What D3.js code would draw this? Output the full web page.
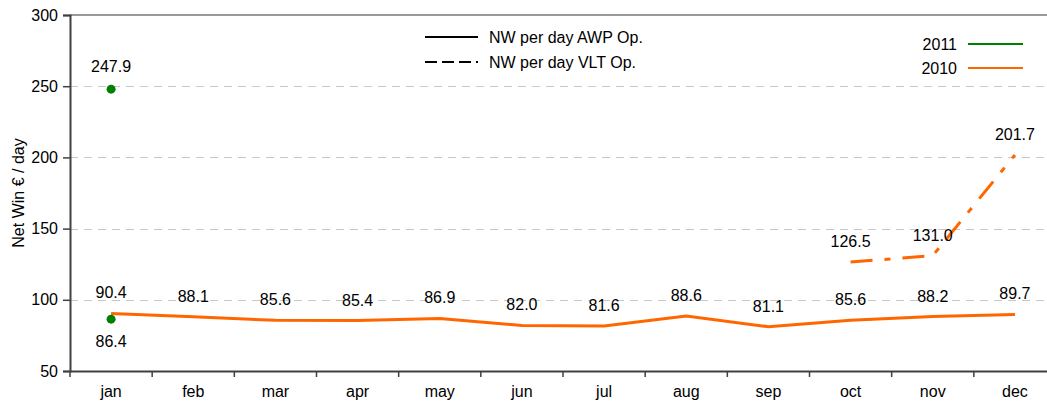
<!DOCTYPE html>
<html>
<head>
<meta charset="utf-8">
<script src="https://cdn.jsdelivr.net/npm/d3@7"></script>
<style>
  body { margin: 0; background: #fff; overflow: hidden; }
  text { font-family: "Liberation Sans", Arial, sans-serif; font-size: 16px; fill: #000; }
</style>
</head>
<body>
<div id="chart"></div>
<script>
// chart data
var months = ["jan", "feb", "mar", "apr", "may", "jun", "jul", "aug", "sep", "oct", "nov", "dec"];
var awp2010 = [90.4, 88.1, 85.6, 85.4, 86.9, 82.0, 81.6, 88.6, 81.1, 85.6, 88.2, 89.7];
var vltMonths2010 = ["oct", "nov", "dec"];
var vlt2010 = [126.5, 131.0, 201.7];
var awp2011 = [86.4];
var vlt2011 = [247.9];
var yTicks = [50, 100, 150, 200, 250, 300];

var margin = { top: 15, right: 0, bottom: 34, left: 70 },
    width = 986,
    height = 356;

var svg = d3.select("#chart")
    .append("svg")
    .attr("width", 1047)
    .attr("height", 405);

var g = svg.append("g")
    .attr("transform", "translate(" + margin.left + "," + margin.top + ")");

var x = d3.scaleBand().domain(months).range([0, width]);
var y = d3.scaleLinear().domain([50, 300]).range([height, 0]);
var cx = function (m) { return x(m) + x.bandwidth() / 2; };

var orange = "#ff6600", green = "#008000";

// grid lines
g.selectAll(".grid")
    .data(yTicks.filter(function (d) { return d > 50 && d < 300; }))
    .enter()
    .append("line")
    .attr("x1", 0)
    .attr("x2", width)
    .attr("y1", function (d) { return Math.round(y(d)) + 0.5; })
    .attr("y2", function (d) { return Math.round(y(d)) + 0.5; })
    .attr("stroke", "#c8c8c8")
    .attr("stroke-dasharray", "8,6");

// frame top + right
g.append("path")
    .attr("d", "M0," + 0 + "H" + width + "V" + height)
    .attr("fill", "none")
    .attr("stroke", "#999")
    .attr("stroke-width", 2);

// axes
var yAxis = d3.axisLeft(y).tickValues(yTicks).tickSize(7).tickPadding(5);
var yg = g.append("g").call(yAxis);
yg.select(".domain").attr("stroke", "#404040").attr("stroke-width", 2);
yg.selectAll(".tick line").attr("stroke", "#404040").attr("stroke-width", 1.5);
yg.selectAll("text").style("font-size", "16px");

var xAxis = d3.axisBottom(x).tickSize(0).tickPadding(15);
var xg = g.append("g").attr("transform", "translate(0," + height + ")").call(xAxis);
xg.select(".domain").attr("stroke", "#404040").attr("stroke-width", 2);
xg.selectAll("text").style("font-size", "16px");

// band boundary ticks
xg.selectAll(".btick")
    .data(months)
    .enter()
    .append("line")
    .attr("x1", function (d) { return x(d); })
    .attr("x2", function (d) { return x(d); })
    .attr("y1", 0)
    .attr("y2", 6)
    .attr("stroke", "#404040")
    .attr("stroke-width", 1.5);

// y label
g.append("text")
    .attr("transform", "rotate(-90)")
    .attr("x", -height / 2)
    .attr("y", -46)
    .style("text-anchor", "middle")
    .text("Net Win € / day");

// lines
var awpLine = d3.line()
    .x(function (d, i) { return cx(months[i]); })
    .y(function (d) { return y(d); });

g.append("path")
    .datum(awp2010)
    .attr("d", awpLine)
    .attr("fill", "none")
    .attr("stroke", orange)
    .attr("stroke-width", 3);

var vltLine = d3.line()
    .x(function (d, i) { return cx(vltMonths2010[i]); })
    .y(function (d) { return y(d); });

g.append("path")
    .datum(vlt2010)
    .attr("d", vltLine)
    .attr("fill", "none")
    .attr("stroke", orange)
    .attr("stroke-width", 3)
    .attr("stroke-dasharray", "22,12,6,12");

// 2011 points
g.selectAll(".p2011")
    .data(awp2011.concat(vlt2011))
    .enter()
    .append("circle")
    .attr("cx", cx("jan"))
    .attr("cy", function (d) { return y(d); })
    .attr("r", 4.5)
    .attr("fill", green);

// value labels
g.selectAll(".lab2010")
    .data(awp2010)
    .enter()
    .append("text")
    .attr("x", function (d, i) { return cx(months[i]); })
    .attr("y", function (d) { return y(d) - 15; })
    .style("text-anchor", "middle")
    .text(function (d) { return d.toFixed(1); });

g.selectAll(".labvlt")
    .data(vlt2010)
    .enter()
    .append("text")
    .attr("x", function (d, i) { return cx(vltMonths2010[i]); })
    .attr("y", function (d) { return y(d) - 15; })
    .style("text-anchor", "middle")
    .text(function (d) { return d.toFixed(1); });

g.append("text")
    .attr("x", cx("jan"))
    .attr("y", y(vlt2011[0]) - 17)
    .style("text-anchor", "middle")
    .text(vlt2011[0].toFixed(1));

g.append("text")
    .attr("x", cx("jan"))
    .attr("y", y(awp2011[0]) + 28)
    .style("text-anchor", "middle")
    .text(awp2011[0].toFixed(1));

// legend: line styles
var legStyle = [
    { label: "NW per day AWP Op.", dash: null },
    { label: "NW per day VLT Op.", dash: "12,5" }
];
var ls = svg.append("g").attr("transform", "translate(425,37)");
legStyle.forEach(function (d, i) {
    ls.append("line")
        .attr("x1", 0).attr("x2", 53)
        .attr("y1", i * 25).attr("y2", i * 25)
        .attr("stroke", "#000")
        .attr("stroke-width", 2)
        .attr("stroke-dasharray", d.dash);
    ls.append("text")
        .attr("x", 64)
        .attr("y", i * 25 + 6)
        .text(d.label);
});

// legend: years
var legYears = [
    { label: "2011", color: green },
    { label: "2010", color: orange }
];
var ly = svg.append("g").attr("transform", "translate(968,44)");
legYears.forEach(function (d, i) {
    ly.append("line")
        .attr("x1", 0).attr("x2", 55)
        .attr("y1", i * 24).attr("y2", i * 24)
        .attr("stroke", d.color)
        .attr("stroke-width", 2);
    ly.append("text")
        .attr("x", -11)
        .attr("y", i * 24 + 6)
        .style("text-anchor", "end")
        .text(d.label);
});
</script>
</body>
</html>
